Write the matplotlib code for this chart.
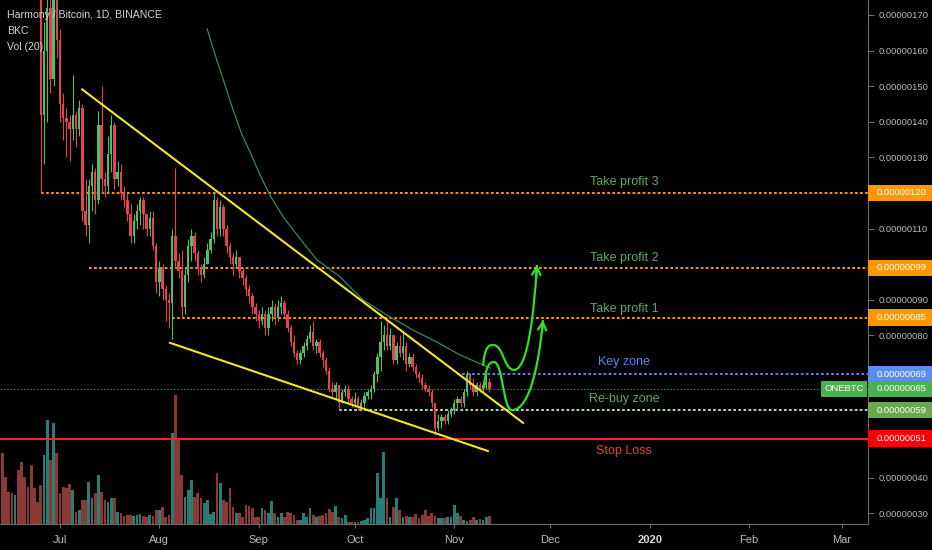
import numpy as np
import pandas as pd
import matplotlib
matplotlib.use("Agg")
import matplotlib.pyplot as plt
from matplotlib import font_manager
from matplotlib.patches import Rectangle, PathPatch
from matplotlib.path import Path

plt.rcParams['font.family'] = ['Liberation Sans', 'DejaVu Sans']
installed = {f.name for f in font_manager.fontManager.ttflist}
if 'Liberation Sans Narrow' in installed:
    scale_font, scale_size = ['Liberation Sans Narrow', 'DejaVu Sans'], 8.2
else:
    scale_font, scale_size = ['Liberation Sans', 'DejaVu Sans'], 6.8

# ---- data (prices in 1e-8 BTC, one candle per day from 2019-06-13) ----
first_open = 230
closes = [222, 216, 210, 204, 206, 200, 195, 191, 188, 185, 182, 180,
          142, 160, 172, 152, 175, 163,
          145, 141, 140, 138, 142, 138, 144, 115, 111, 122,
          126, 118, 139, 124, 122, 131, 139, 124, 126, 120,
          118, 114, 108, 112, 115, 118, 114, 110, 113, 105,
          95, 99, 93, 90, 89, 108, 101, 98, 88, 97,
          105, 108, 103, 99, 97, 100, 104, 107, 118, 110,
          116, 110, 105, 102, 100, 102, 98, 96, 93, 91,
          88, 86, 84, 86, 82, 86, 88, 85, 88, 89,
          86, 82, 78, 75, 73, 75, 77, 79, 81, 77,
          78, 75, 73, 70, 65, 64, 66, 61, 64, 65,
          62, 61, 62, 60, 61, 63, 64, 65, 69, 74,
          78, 80, 77, 80, 73, 77, 75, 77, 72, 74,
          71, 69, 68, 66, 65, 64, 61, 54, 56, 57,
          56, 58, 59, 61, 62, 61, 64, 69, 66, 64,
          66, 65, 66, 67, 65]
highs = [235, 226, 220, 214, 210, 208, 204, 198, 197, 195, 192, 190,
         186, 168, 178, 176, 180, 178,
         166, 148, 144, 142, 153, 143, 146, 145, 124, 124,
         128, 127, 143, 150, 126, 136, 142, 140, 129, 128,
         122, 120, 117, 114, 117, 119, 119, 114, 115, 115,
         106, 101, 100, 94, 92, 110, 127, 103, 104, 99,
         107, 110, 109, 104, 100, 102, 106, 109, 120, 119,
         118, 117, 111, 106, 103, 104, 102, 99, 97, 94,
         92, 89, 87, 88, 87, 88, 90, 89, 90, 91,
         90, 87, 83, 80, 76, 76, 78, 80, 83, 84,
         79, 79, 76, 74, 71, 67, 67, 66, 65, 66,
         66, 63, 64, 63, 62, 64, 65, 66, 70, 75,
         84, 83, 85, 82, 80, 78, 80, 81, 78, 75,
         75, 72, 70, 69, 67, 66, 65, 61, 58, 58,
         58, 59, 60, 62, 63, 63, 65, 70, 69.5, 68,
         67, 67, 67, 69, 68]
lows = [215, 210, 205, 198, 196, 195, 190, 186, 184, 181, 179, 176,
        120, 128, 140, 148, 150, 158,
        140, 135, 130, 129, 135, 133, 136, 112, 108, 106,
        115, 114, 117, 120, 119, 120, 126, 121, 122, 118,
        116, 112, 106, 106, 110, 111, 110, 108, 108, 104,
        92, 91, 90, 84, 82, 79, 99, 96, 85, 86,
        95, 101, 101, 97, 95, 96, 100, 103, 106, 108,
        108, 108, 103, 100, 97, 99, 96, 94, 91, 89,
        86, 84, 82, 83, 80, 80, 84, 83, 84, 86,
        85, 81, 77, 74, 72, 72, 74, 76, 78, 76,
        75, 74, 71, 69, 64, 63, 62, 59, 61, 63,
        61, 60, 60, 59, 59, 60, 62, 62, 64, 67,
        70, 76, 76, 76, 72, 72, 74, 73, 70, 71,
        70, 68, 67, 65, 64, 63, 60, 52, 53, 54,
        55, 55, 57, 58, 59, 60, 60, 63, 65, 63,
        63, 64, 64, 65, 64]
volumes = [71, 47, 32, 31, 29, 54, 62, 47, 37, 59, 36, 22,
           39, 69, 104, 64, 101, 71,
           31, 37, 36, 40, 34, 12, 14, 24, 24, 42,
           26, 31, 49, 32, 24, 22, 26, 26, 12, 11,
           8, 9, 9, 8, 9, 10, 8, 7, 9, 8,
           14, 14, 17, 7, 9, 91, 129, 86, 49, 27,
           34, 44, 27, 31, 26, 21, 24, 10, 12, 51,
           41, 24, 22, 36, 17, 11, 11, 7, 19, 18,
           16, 7, 7, 16, 14, 11, 23, 11, 7, 11,
           7, 12, 11, 9, 4, 4, 11, 7, 16, 9,
           7, 8, 9, 11, 15, 12, 18, 7, 6, 9,
           2, 2, 2, 2, 3, 4, 6, 16, 16, 51,
           26, 72, 26, 7, 17, 26, 14, 7, 8, 7,
           7, 10, 6, 9, 14, 8, 11, 8, 6, 6,
           6, 7, 7, 19, 11, 8, 4, 3, 4, 7,
           4, 5, 4, 7, 8]

# BKC indicator line (day offset from Jul 1, value)
bkc_days = [45.9, 48.4, 51.5, 54.0, 56.8, 59.3, 62.4, 65.5, 69.6, 75.9,
            80.2, 87.4, 94.5, 102.0, 110.1, 117.6, 124.8, 134.2]
bkc_vals = [166.1, 158.8, 150.3, 143.3, 136.3, 131.5, 125.1, 119.4, 113.3, 106.0,
            101.2, 96.4, 90.0, 85.7, 81.5, 78.1, 74.5, 70.8]

# drawn trendlines (day, price)
wedge_top = [(6.9, 149.1), (144.5, 55.4)]
wedge_bottom = [(34.3, 77.9), (133.5, 47.5)]

# levels
level_vals = [120, 99, 85, 69, 59, 51]
level_start = [-6, 9, 35, 124, 87, None]
level_colors = ['#ff9800', '#ff9800', '#ff9800', '#5b84e0', '#b7dca0', '#ff1f1f']
level_names = ['Take profit 3', 'Take profit 2', 'Take profit 1', 'Key zone', 'Re-buy zone', 'Stop Loss']
name_y = [123.0, 101.7, 87.4, 72.6, 62.0, 47.5]
name_colors = ['#5faa62', '#5faa62', '#5faa62', '#5a8ae6', '#5faa62', '#e8403c']
last_price = 65

box_vals = [120, 99, 85, 69, 65, 59, 51]
box_colors = ['#ff9800', '#ff9800', '#ff9800', '#5b8def', '#4caf50', '#6aa84f', '#ff0000']

scale_ticks = [30, 40, 80, 90, 110, 130, 140, 150, 160, 170]

# projection arrows: start, top of hump, trough, target
wave_a = [(132.0, 71.4), (135.1, 77.3), (141.7, 70.3), (148.8, 99.8)]
wave_b = [(132.3, 65.2), (135.4, 72.5), (141.0, 59.0), (150.7, 84.3)]

month_ticks = ['2019-07-01', '2019-08-01', '2019-09-01', '2019-10-01', '2019-11-01',
               '2019-12-01', '2020-01-01', '2020-02-01', '2020-03-01']
month_labels = ['Jul', 'Aug', 'Sep', 'Oct', 'Nov', 'Dec', '2020', 'Feb', 'Mar']

# ---- setup ----
day0 = pd.Timestamp('2019-07-01')
dates = pd.date_range('2019-06-13', periods=len(closes), freq='D')
days = np.array((dates - day0).days, dtype=float)
closes = np.array(closes, dtype=float)
opens = np.concatenate([[first_open], closes[:-1]])
highs = np.maximum(np.array(highs, dtype=float), np.maximum(opens, closes))
lows = np.minimum(np.array(lows, dtype=float), np.minimum(opens, closes))
volumes = np.array(volumes, dtype=float)
up = closes >= opens

xlim = (-18.72, 252.1)
ylim = (27.0, 174.2)

fig = plt.figure(figsize=(9.32, 5.5), dpi=100, facecolor='black')
rect = [0, 26 / 550, 868 / 932, 524 / 550]

axv = fig.add_axes(rect, label='vol')
axv.set_facecolor('black')
axv.set_xlim(xlim)
axv.set_ylim(0, 524)
axv.axis('off')
axv.bar(days, volumes, width=0.85, color=np.where(up, '#2a7d75', '#8a3a36'), linewidth=0)

ax = fig.add_axes(rect, label='price')
ax.set_facecolor('none')
ax.set_xlim(xlim)
ax.set_ylim(ylim)

# candles
ucol, dcol = '#4fbf6a', '#e5444f'
cols = np.where(up, ucol, dcol)
ax.vlines(days, lows, highs, colors=cols, linewidth=0.8, zorder=3)
body = np.maximum(np.abs(closes - opens), 0.3)
ax.bar(days, body, bottom=np.minimum(opens, closes), width=0.75, color=cols, linewidth=0, zorder=3)

# levels
for v, s, c in zip(level_vals, level_start, level_colors):
    x0 = xlim[0] if s is None else s
    if v == 51:
        ax.hlines(v, x0, xlim[1], colors=c, linewidth=1.5, zorder=2)
    else:
        ax.hlines(v, x0, xlim[1], colors=c, linewidth=1.4, linestyles=(0, (1.4, 1.2)), zorder=2)
ax.hlines(last_price, xlim[0], xlim[1], colors='#2f7d5a', linewidth=0.8, linestyles=(0, (1.5, 1.5)), zorder=2)

for nm, yy, c in zip(level_names, name_y, name_colors):
    ax.text(176, yy, nm, color=c, fontsize=9, ha='center', va='center', zorder=5)

ax.text(244.6, last_price, 'ONEBTC', color='white', fontsize=scale_size, family=scale_font,
        ha='center', va='center',
        bbox=dict(boxstyle='square,pad=0.35', fc='#4caf50', ec='none'), zorder=6)

# BKC line
ax.plot(bkc_days, bkc_vals, color='#3a8a4c', linewidth=0.9, zorder=2)

# wedge
for ln in (wedge_top, wedge_bottom):
    ax.plot([ln[0][0], ln[1][0]], [ln[0][1], ln[1][1]], color='#f2e62c', linewidth=1.5, zorder=4)

# projection arrows
def wave(pts, color='#2ee02e'):
    (x0, y0), (x1, y1), (x2, y2), (x3, y3) = pts
    c_end = (x3 - 0.12 * (x3 - x2), y3 - 0.45 * (y3 - y2))
    verts = [(x0, y0),
             (x0 + 0.15 * (x1 - x0), y0 + 0.8 * (y1 - y0)), (x1 - 0.55 * (x1 - x0), y1), (x1, y1),
             (x1 + 0.5 * (x2 - x1), y1), (x2 - 0.5 * (x2 - x1), y2), (x2, y2),
             (x2 + 0.6 * (x3 - x2), y2), c_end, (x3, y3)]
    codes = [Path.MOVETO] + [Path.CURVE4] * 9
    ax.add_patch(PathPatch(Path(verts, codes), fc='none', ec=color, lw=1.6, zorder=5))
    ax.annotate('', xy=(x3, y3), xytext=(x3 - 0.3 * (x3 - c_end[0]), y3 - 0.3 * (y3 - c_end[1])),
                arrowprops=dict(arrowstyle='->,head_length=0.55,head_width=0.3', color=color,
                                lw=1.6, shrinkA=0, shrinkB=0), zorder=5)

wave(wave_a)
wave(wave_b)

# axes styling
for sp in ['top', 'left']:
    ax.spines[sp].set_visible(False)
ax.spines['right'].set_color('#6b6b6b')
ax.spines['bottom'].set_color('#6b6b6b')
ax.spines['right'].set_linewidth(0.8)
ax.spines['bottom'].set_linewidth(0.8)

ax.yaxis.tick_right()
ax.set_yticks(scale_ticks)
ax.set_yticklabels([f'{v * 1e-8:.8f}' for v in scale_ticks], family=scale_font)
ax.tick_params(axis='y', colors='#6b6b6b', labelcolor='#b8bbc4', labelsize=scale_size,
               length=4, width=0.8, pad=4)

tick_days = [(pd.Timestamp(t) - day0).days for t in month_ticks]
ax.set_xticks(tick_days)
ax.set_xticklabels(month_labels)
ax.tick_params(axis='x', colors='#6b6b6b', labelcolor='#b8bbc4', labelsize=8, length=3, width=0.8, pad=5)
for lbl in ax.get_xticklabels():
    if lbl.get_text() == '2020':
        lbl.set_fontweight('bold')
        lbl.set_color('#d8dae0')

# price scale boxes
axr = fig.add_axes([868 / 932, 26 / 550, 64 / 932, 524 / 550], label='scale')
axr.set_xlim(0, 1)
axr.set_ylim(ylim)
axr.axis('off')
for v, c in zip(box_vals, box_colors):
    axr.add_patch(Rectangle((0.0, v - 2.3), 1.0, 4.6, fc=c, ec='none'))
    axr.text(0.14, v, f'{v * 1e-8:.8f}', color='white', fontsize=scale_size, family=scale_font,
             ha='left', va='center')

# header
fig.text(7 / 932, 1 - 15 / 550, 'Harmony / Bitcoin, 1D, BINANCE', color='#d1d4dc', fontsize=7.6, va='center')
fig.text(7 / 932, 1 - 31 / 550, 'BKC', color='#d1d4dc', fontsize=7.6, va='center')
fig.text(7 / 932, 1 - 47 / 550, 'Vol (20)', color='#d1d4dc', fontsize=7.6, va='center')

fig.savefig('out.png', dpi=100, facecolor='black')
